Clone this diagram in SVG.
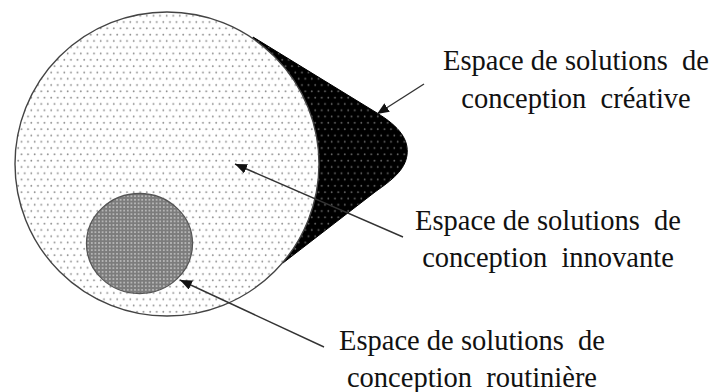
<svg xmlns="http://www.w3.org/2000/svg" width="713" height="392" viewBox="0 0 713 392">
  <defs>
    <pattern id="lightDots" width="6.6" height="12.6" patternUnits="userSpaceOnUse">
      <rect width="6.6" height="12.6" fill="#ffffff"/>
      <circle cx="1.65" cy="3.15" r="0.9" fill="#8a8a8a"/>
      <circle cx="4.95" cy="9.45" r="0.9" fill="#8a8a8a"/>
    </pattern>
    <pattern id="darkDots" width="6.6" height="12.6" patternUnits="userSpaceOnUse">
      <rect width="6.6" height="12.6" fill="#000000"/>
      <circle cx="1.65" cy="3.15" r="0.9" fill="#6a6a6a"/>
      <circle cx="4.95" cy="9.45" r="0.9" fill="#6a6a6a"/>
    </pattern>
    <pattern id="greyDots" width="3.6" height="3.6" patternUnits="userSpaceOnUse">
      <rect width="3.6" height="3.6" fill="#7c7c7c"/>
      <circle cx="1.8" cy="1.8" r="0.9" fill="#c8c8c8"/>
    </pattern>
    <marker id="arrow" viewBox="0 0 12 10" refX="12" refY="5" markerWidth="12" markerHeight="10" markerUnits="userSpaceOnUse" orient="auto">
      <path d="M0,0 L12,5 L0,10 Z" fill="#111111"/>
    </marker>
  </defs>
  <style>
    .lbl { font-family: "Liberation Serif", "Times New Roman", serif; font-size: 28.5px; fill: #111111; text-anchor: middle; white-space: pre; }
    .conn { stroke: #333333; stroke-width: 1.4; fill: none; marker-end: url(#arrow); }
  </style>

  <g id="creative-space">
    <path d="M253,37 L377,113 C400,127 409,140 407,155 C405,170 392,180 375,192 L283,263 Z" fill="url(#darkDots)" stroke="#000000" stroke-width="1"/>
  </g>

  <g id="innovative-space">
    <circle cx="167" cy="164" r="152" fill="url(#lightDots)" stroke="#444444" stroke-width="1.4"/>
  </g>

  <g id="routine-space">
    <ellipse cx="139.5" cy="243.5" rx="53" ry="50" fill="url(#greyDots)" stroke="#555555" stroke-width="1.3"/>
  </g>

  <g id="connectors">
    <line class="conn" x1="424" y1="84" x2="377" y2="114"/>
    <line class="conn" x1="403" y1="237" x2="235" y2="164"/>
    <line class="conn" x1="324" y1="347" x2="180" y2="280"/>
  </g>

  <g id="label-creative">
    <text class="lbl" x="576" y="70">Espace de solutions  de</text>
    <text class="lbl" x="576" y="108">conception  créative</text>
  </g>
  <g id="label-innovative">
    <text class="lbl" x="548" y="230">Espace de solutions  de</text>
    <text class="lbl" x="548" y="267">conception  innovante</text>
  </g>
  <g id="label-routine">
    <text class="lbl" x="472" y="350">Espace de solutions  de</text>
    <text class="lbl" x="472" y="387">conception  routinière</text>
  </g>
</svg>
